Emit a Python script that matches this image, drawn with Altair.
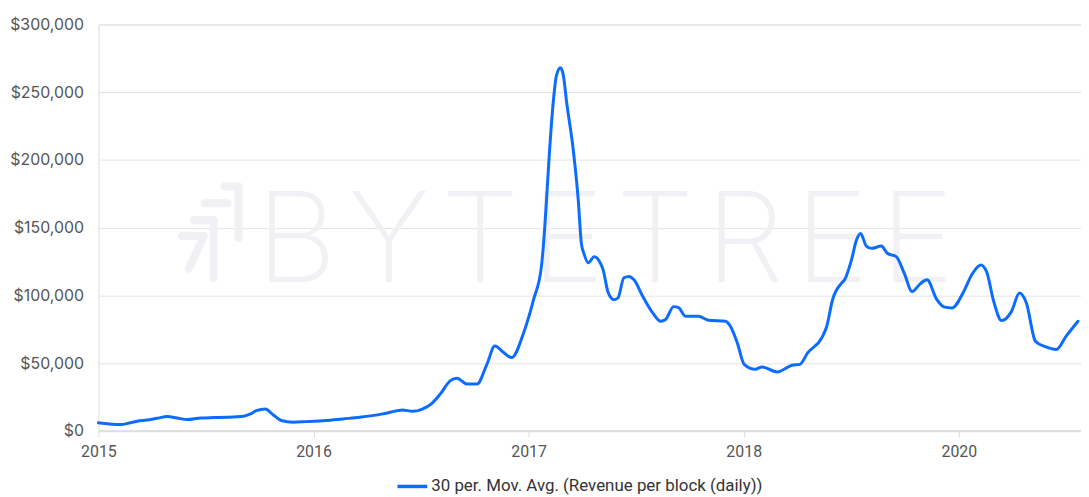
import altair as alt
import pandas as pd

# ---- data ----
years = [
    2015.000, 2015.051, 2015.105, 2015.143, 2015.180, 2015.226, 2015.273, 2015.319,
    2015.365, 2015.411, 2015.476, 2015.536, 2015.596, 2015.674, 2015.707, 2015.734,
    2015.776, 2015.813, 2015.850, 2015.905, 2015.965, 2016.058, 2016.136, 2016.215,
    2016.321, 2016.390, 2016.413, 2016.460, 2016.506, 2016.552, 2016.589, 2016.635,
    2016.667, 2016.714, 2016.760, 2016.806, 2016.843, 2016.885, 2016.921, 2016.977,
    2017.023, 2017.060, 2017.074, 2017.083, 2017.097, 2017.115, 2017.129, 2017.148,
    2017.162, 2017.176, 2017.208, 2017.231, 2017.245, 2017.259, 2017.277, 2017.305,
    2017.333, 2017.346, 2017.370, 2017.397, 2017.416, 2017.443, 2017.467, 2017.490,
    2017.531, 2017.577, 2017.614, 2017.637, 2017.674, 2017.697, 2017.730, 2017.790,
    2017.836, 2017.915, 2017.938, 2017.970, 2018.002, 2018.053, 2018.085, 2018.155,
    2018.224, 2018.261, 2018.298, 2018.363, 2018.386, 2018.413, 2018.455, 2018.469,
    2018.501, 2018.524, 2018.543, 2018.570, 2018.594, 2018.640, 2018.667, 2018.709,
    2018.746, 2018.783, 2018.820, 2018.852, 2018.898, 2018.931, 2018.968, 2019.023,
    2019.060, 2019.102, 2019.129, 2019.162, 2019.199, 2019.245, 2019.282, 2019.314,
    2019.356, 2019.402, 2019.453, 2019.499, 2019.554,
]
revenue = [
    5900, 5000, 4600, 5800, 7100, 8000, 9300, 10500,
    9500, 8300, 9500, 9800, 10000, 10800, 12500, 14900,
    16100, 11700, 7600, 6400, 6800, 7600, 8800, 10000,
    12500, 14900, 15400, 14400, 16100, 20500, 27100, 36900,
    38900, 34500, 34500, 49100, 62600, 57700, 54100, 72400,
    96800, 122000, 148000, 170000, 206000, 243500, 262000, 268000,
    262000, 243500, 206800, 170000, 138600, 130000, 124000, 128600,
    124000, 119000, 102000, 96800, 98300, 113000, 114000, 111500,
    99200, 87100, 80900, 82200, 91700, 90900, 84600, 84600,
    81600, 80900, 77200, 65000, 49100, 45500, 47200, 43500,
    48400, 49100, 57700, 68700, 77200, 96800, 109100, 111500,
    126200, 140800, 145700, 136400, 134700, 136400, 131100, 128600,
    116400, 102900, 108500, 111500, 96800, 91500, 90700, 102900,
    115200, 122500, 117600, 95600, 81400, 88200, 101700, 94400,
    66200, 62100, 60100, 69900, 80900,
]
series_name = "30 per. Mov. Avg. (Revenue per block (daily))"
tick_years = [2015, 2016, 2017, 2018, 2019]
tick_labels = ["2015", "2016", "2017", "2018", "2020"]
y_ticks = [0, 50000, 100000, 150000, 200000, 250000, 300000]
watermark = ["BYTETREE"]

df = pd.DataFrame({"year": years, "revenue": revenue, "series": series_name})

# label expression built from the tick lists
expr = "''"
for v, lab in zip(reversed(tick_years), reversed(tick_labels)):
    expr = f"datum.value == {v} ? '{lab}' : ({expr})"

YFONT = "Inter"
XFONT = "Roboto"
BLUE = "#0b6cff"
WM = "#f0f0f5"

W, H = 989, 409

# watermark text (letters slightly spaced)
wm_df = pd.DataFrame({"t": ["\u200a".join(w) for w in watermark]})
wm_text = alt.Chart(wm_df).mark_text(
    font="Inter", fontSize=126, fontWeight=200, color=WM, align="center",
    baseline="middle"
).encode(x=alt.value(510), y=alt.value(221), text="t:N")

# watermark logo (decorative strokes)
segments = [
    (127, 163, 141, 163), (141, 163, 141, 215),
    (107, 180, 130, 180),
    (96, 197, 116, 197), (116, 197, 116, 255),
    (84, 213, 106, 213), (106, 213, 91, 246),
]
logo_layers = []
for (x1, y1, x2, y2) in segments:
    logo_layers.append(
        alt.Chart(pd.DataFrame({"a": [0]})).mark_rule(
            color=WM, strokeWidth=8, strokeCap="round"
        ).encode(x=alt.value(x1), y=alt.value(y1), x2=alt.value(x2), y2=alt.value(y2))
    )

line = alt.Chart(df).mark_line(
    strokeWidth=3, interpolate="monotone", strokeCap="round", strokeJoin="round"
).encode(
    x=alt.X("year:Q",
            scale=alt.Scale(domain=[2015, 2019.568], nice=False, zero=False),
            axis=alt.Axis(values=tick_years, labelExpr=expr, title=None, grid=False,
                          domainColor="#dddddd", domainWidth=2, tickColor="#dddddd",
                          tickSize=6, tickWidth=1, labelPadding=7, labelFontSize=16,
                          labelFlush=False, labelColor="#555555", labelFont=XFONT)),
    y=alt.Y("revenue:Q",
            scale=alt.Scale(domain=[0, 300000], nice=False),
            axis=alt.Axis(values=y_ticks, format="$,.0f", title=None, domain=False,
                          ticks=False, labelPadding=15, labelFontSize=16,
                          labelColor="#555555", labelFont=YFONT, gridColor="#e3e3e3",
                          gridWidth=1)),
    color=alt.Color("series:N",
                    scale=alt.Scale(domain=[series_name], range=[BLUE]),
                    legend=alt.Legend(title=None, orient="none", legendX=299,
                                      legendY=448, direction="horizontal",
                                      symbolType="stroke", symbolStrokeWidth=3.5,
                                      symbolSize=900, labelFontSize=17,
                                      labelColor="#333333", labelFont=XFONT,
                                      labelLimit=0, labelOffset=2, padding=0)),
)

chart = alt.layer(wm_text, *logo_layers, line).properties(
    width=W, height=H,
    autosize=alt.AutoSizeParams(type="none"),
    padding={"left": 91, "top": 15, "right": 0, "bottom": 64},
).configure_view(stroke=None).configure(background="white")

chart.save("out.html", embed_options={"renderer": "svg", "actions": False})
